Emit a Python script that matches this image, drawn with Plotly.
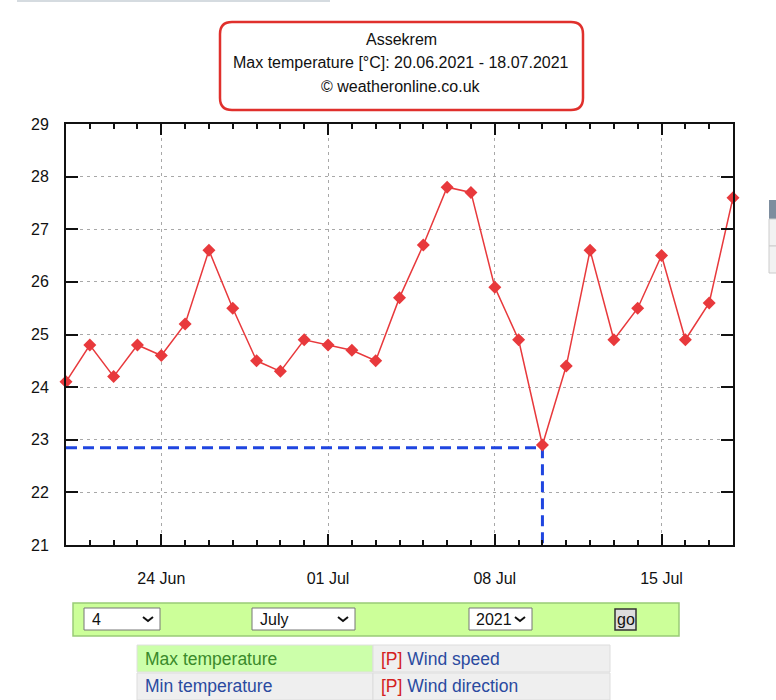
import plotly.graph_objects as go
import pandas as pd

# ---- data ----
dates = pd.date_range("2021-06-20", "2021-07-18", freq="D").strftime("%Y-%m-%d").tolist()
max_temp = [24.1, 24.8, 24.2, 24.8, 24.6, 25.2, 26.6, 25.5, 24.5, 24.3,
            24.9, 24.8, 24.7, 24.5, 25.7, 26.7, 27.8, 27.7, 25.9, 24.9,
            22.9, 24.4, 26.6, 24.9, 25.5, 26.5, 24.9, 25.6, 27.6]
major_ticks = ["2021-06-24", "2021-07-01", "2021-07-08", "2021-07-15"]
major_labels = ["24 Jun", "01 Jul", "08 Jul", "15 Jul"]
y_min, y_max = 21, 29
cross_date = "2021-07-10"
cross_level = 22.85

title_lines = ["Assekrem", "Max temperature [°C]: 20.06.2021 - 18.07.2021", "© weatheronline.co.uk"]

# ---- layout geometry (pixels) ----
Wd, Ht = 776, 700
L, R, T, B = 66, 733, 124, 545
PW, PH = R - L, B - T

def px(x):
    return (x - L) / PW

def py(y):
    return (B - y) / PH

FONT = "Liberation Sans, Arial, Helvetica, sans-serif"

fig = go.Figure()
fig.add_trace(go.Scatter(
    x=[dates[0], cross_date, cross_date], y=[cross_level, cross_level, y_min],
    mode="lines", line=dict(color="#1f45e0", width=3, dash="11px,6px"),
    hoverinfo="skip", showlegend=False, cliponaxis=False))
fig.add_trace(go.Scatter(
    x=dates, y=max_temp, mode="lines+markers",
    line=dict(color="#e8393c", width=1.5),
    marker=dict(symbol="diamond", size=10, color="#e8393c"),
    showlegend=False, cliponaxis=False))
# invisible helper trace so the top axis (with daily minor ticks) is drawn
fig.add_trace(go.Scatter(
    x=dates[:1], y=max_temp[:1], xaxis="x2", mode="markers",
    marker=dict(opacity=0), hoverinfo="skip", showlegend=False))

shapes = []
annotations = []

def rounded(x0, y0, x1, y1, r):
    X0, X1 = px(x0), px(x1)
    Y0, Y1 = py(y0), py(y1)
    rx, ry = r / PW, r / PH
    return (f"M {X0+rx},{Y0} L {X1-rx},{Y0} Q {X1},{Y0} {X1},{Y0-ry} "
            f"L {X1},{Y1+ry} Q {X1},{Y1} {X1-rx},{Y1} L {X0+rx},{Y1} "
            f"Q {X0},{Y1} {X0},{Y1+ry} L {X0},{Y0-ry} Q {X0},{Y0} {X0+rx},{Y0} Z")

shapes.append(dict(type="path", xref="paper", yref="paper",
                   path=rounded(220, 22, 583, 110, 12),
                   line=dict(color="#e0302c", width=2.5), fillcolor="white", layer="below"))
for t, yy in zip(title_lines, [39, 63, 87]):
    annotations.append(dict(text=t, xref="paper", yref="paper", x=px(401), y=py(yy),
                            xanchor="center", yanchor="middle", showarrow=False,
                            font=dict(family=FONT, size=16, color="#111")))

def rect(x0, y0, x1, y1, fill, line="rgba(0,0,0,0)", lw=1):
    shapes.append(dict(type="rect", xref="paper", yref="paper",
                       x0=px(x0), x1=px(x1), y0=py(y1), y1=py(y0),
                       fillcolor=fill, line=dict(color=line, width=lw), layer="below"))

def text(t, x, y, color="#111", size=15, anchor="left"):
    annotations.append(dict(text=t, xref="paper", yref="paper", x=px(x), y=py(y),
                            xanchor=anchor, yanchor="middle", showarrow=False,
                            font=dict(family=FONT, size=size, color=color)))

def chevron(cx, cy):
    w, h = 5, 4
    shapes.append(dict(type="path", xref="paper", yref="paper",
                       path=f"M {px(cx-w)},{py(cy-h/2)} L {px(cx)},{py(cy+h/2)} L {px(cx+w)},{py(cy-h/2)}",
                       line=dict(color="#111", width=2)))

# top-left remnant bar and right-side remnant
rect(17, -2, 330, 2, "#d5dbe0")
rect(769, 200, 780, 219, "#7d8d9e")
rect(769, 219, 780, 246, "#f2f2f2", "#cccccc")
rect(769, 246, 780, 273, "#f2f2f2", "#cccccc")

# date selector form
rect(73, 603, 679, 636, "#ccff99", "#99cc77", 1.5)
rect(84, 608, 160, 630, "white", "#777777")
text("4", 90, 619, size=16)
chevron(148, 619)
rect(252, 608, 355, 630, "white", "#777777")
text("July", 258, 619, size=16)
chevron(343, 619)
rect(469, 608, 532, 630, "white", "#777777")
text("2021", 474, 619, size=16)
chevron(520, 619)
rect(615, 609, 636, 630, "#dddddd", "#333333", 1.5)
text("go", 625.5, 619, size=16, anchor="center")

# parameter table
rect(137, 645, 373, 672, "#ccffaa", "#e0e0e0")
rect(373, 645, 610, 672, "#efefef", "#dddddd")
rect(137, 673, 373, 700, "#efefef", "#dddddd")
rect(373, 673, 610, 700, "#efefef", "#dddddd")
text("Max temperature", 143, 659, color="#3a8a2a", size=17.5)
text("<span style='color:#d42020'>[P]</span> Wind speed", 379, 659, color="#2a4aa0", size=17.5)
text("Min temperature", 143, 686, color="#2a4aa0", size=17.5)
text("<span style='color:#d42020'>[P]</span> Wind direction", 379, 686, color="#2a4aa0", size=17.5)

axis_common = dict(
    type="date", range=[dates[0], dates[-1]],
    tickvals=major_ticks,
    ticks="inside", ticklen=11, tickwidth=1.5, tickcolor="#111",
    minor=dict(dtick=86400000, tick0=dates[0], ticks="inside", ticklen=5,
               tickwidth=1.5, tickcolor="#111", showgrid=False),
    zeroline=False, fixedrange=True)

fig.update_layout(
    width=Wd, height=Ht,
    margin=dict(l=L, r=Wd - R, t=T, b=Ht - B, pad=0),
    paper_bgcolor="white", plot_bgcolor="white",
    font=dict(family=FONT, size=16, color="#111"),
    shapes=shapes, annotations=annotations,
    hovermode=False,
    xaxis=dict(
        **axis_common, ticktext=major_labels,
        showline=True, linecolor="#111", linewidth=2, mirror=True,
        showgrid=True, gridcolor="#a8a8a8", gridwidth=1, griddash="3px,4px",
        ticklabelstandoff=18, tickfont=dict(size=16)),
    xaxis2=dict(
        **axis_common, overlaying="x", side="top", matches="x",
        showticklabels=False, showline=False, showgrid=False),
    yaxis=dict(
        range=[y_min, y_max], dtick=1, tick0=y_min,
        ticks="inside", ticklen=12, tickwidth=1.5, tickcolor="#111",
        showline=True, linecolor="#111", linewidth=2, mirror="ticks",
        showgrid=True, gridcolor="#a8a8a8", gridwidth=1, griddash="3px,4px",
        ticklabelstandoff=12, tickfont=dict(size=16),
        zeroline=False, fixedrange=True),
)

fig.write_html("out.html", config={"displayModeBar": False},
               post_script="document.body.style.margin='0';document.body.style.padding='0';")
